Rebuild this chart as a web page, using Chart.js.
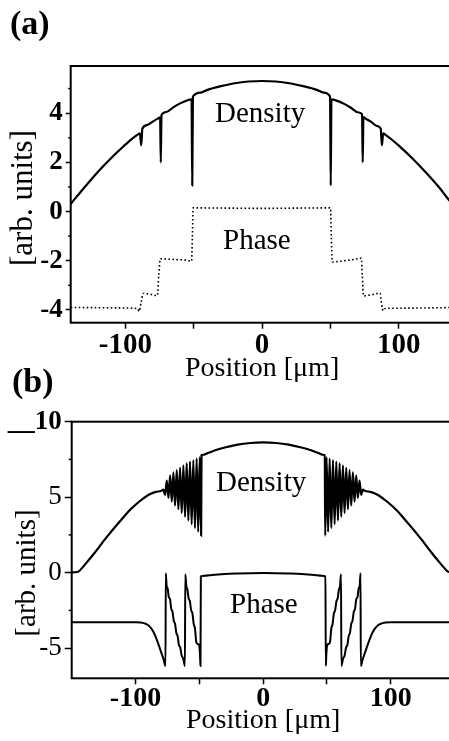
<!DOCTYPE html>
<html><head><meta charset="utf-8">
<script src="https://cdn.jsdelivr.net/npm/chart.js@4/dist/chart.umd.min.js"></script>
<style>
html,body{margin:0;padding:0;overflow:hidden;background:#fff;width:449px;height:741px;}
#wrap{position:relative;width:449px;height:741px;overflow:hidden;background:#fff;}
canvas{position:absolute;left:0;}
.t{position:absolute;font-family:'Liberation Serif','Times New Roman',serif;line-height:1;white-space:nowrap;color:#000;}
.b{font-weight:bold;}
.rot{transform:translate(-50%,-50%) rotate(-90deg);}
</style></head><body>
<div id="wrap">
<canvas id="ca" width="480" height="395" style="top:0;width:480px;height:395px"></canvas>
<canvas id="cb" width="480" height="381" style="top:360px;width:480px;height:381px"></canvas>
<div class="t b" style="left:10px;top:5.5px;font-size:34px">(a)</div>
<div class="t b" style="left:12px;top:363.5px;font-size:34px">(b)</div>
<div class="t" style="left:215px;top:97.7px;font-size:29px">Density</div>
<div class="t" style="left:223px;top:225px;font-size:29px">Phase</div>
<div class="t" style="left:216px;top:467.4px;font-size:29px">Density</div>
<div class="t" style="left:230px;top:589px;font-size:29px">Phase</div>
<div class="t rot" style="left:21px;top:198px;font-size:31px">[arb. units]</div>
<div class="t rot" style="left:25px;top:573px;font-size:29px">[arb. units]</div>
</div>
<script>
// ---------- Panel (a) ----------
const aDensX = [-140,-130,-120,-110,-100,-95,-90.5,-89.4,-88.4,-87.6,-84,-80,-76,-74.6,-74.1,-73.6,-70,-65,-60,-55,-51.6,-51.1,-50.6,-45,-40,-30,-20,-10,0,10,20,30,40,45,49.7,50.2,50.7,55,60,65,70,73.1,73.6,74.1,76,80,84,86.8,87.6,88.6,90,95,100,110,120,130,137,140];
const aDensY = [0.31,0.98,1.62,2.20,2.72,2.97,3.15,3.18,2.69,3.37,3.52,3.66,3.79,3.83,2.0,3.93,4.05,4.24,4.40,4.52,4.56,1.06,4.68,4.84,4.95,5.10,5.22,5.29,5.31,5.29,5.22,5.10,4.95,4.84,4.68,1.06,4.56,4.50,4.38,4.22,4.04,3.96,2.0,3.84,3.77,3.64,3.48,3.37,2.69,3.18,3.13,2.92,2.68,2.16,1.58,0.95,0.45,0.27];
const aPhaseX = [-140,-120,-100,-91,-90,-88.5,-87,-82,-76.6,-75.6,-74.4,-65,-55,-51.6,-51,-50.4,-25,0,25,50,50.6,51.3,60,66,72.6,73.3,74.2,80,86.4,87.2,88.6,89.5,100,120,140];
const aPhaseY = [-3.90,-3.91,-3.92,-3.95,-4.06,-3.7,-3.33,-3.36,-3.42,-2.6,-1.92,-1.95,-1.98,-2.02,-1.0,0.15,0.14,0.13,0.14,0.15,-1.0,-2.05,-2.0,-1.96,-1.9,-2.6,-3.43,-3.38,-3.32,-3.7,-4.03,-3.95,-3.93,-3.92,-3.90];
const aXTicks = [-100,-50,0,50,100];
const aXLabels = ['-100','','0','','100'];
const aYTicks = [-4,-2,0,2,4];
const aYLabels = ['-4','-2','0','2','4'];
const aYMinor = [-3,-1,1,3,5];

// ---------- Panel (b) ----------
const bDensX = [-150,-146,-144,-142,-140,-136,-132,-128,-124,-120,-116,-112,-108,-104,-100,-96,-92,-88,-84,-80,-78.2,-76.8,-75.5,-74.2,-72.9,-71.6,-70.3,-69.0,-67.7,-66.4,-65.1,-63.8,-62.5,-61.2,-59.9,-58.6,-57.3,-56.0,-54.7,-53.4,-52.1,-50.9,-49.7,-48.6,-48.3,-47,-44,-40,-35,-30,-20,-10,0,10,20,30,35,40,44,47,48.3,48.6,49.7,50.9,52.1,53.4,54.7,56.0,57.3,58.6,59.9,61.2,62.5,63.8,65.1,66.4,67.7,69.0,70.3,71.6,72.9,74.2,75.5,76.8,78.2,80,84,88,92,96,100,104,108,112,116,120,124,128,132,136,140,142,144,146,150];
const bDensY = [0.02,0.04,0.12,0.30,0.50,0.90,1.32,1.76,2.20,2.62,3.02,3.42,3.82,4.18,4.50,4.78,5.03,5.22,5.35,5.41,5.50,5.15,6.10,4.95,6.45,4.70,6.65,4.45,6.80,4.20,6.95,3.95,7.10,3.70,7.25,3.45,7.35,3.20,7.45,2.95,7.55,2.70,7.65,2.45,7.78,7.81,7.90,8.03,8.17,8.29,8.48,8.59,8.63,8.59,8.48,8.29,8.17,8.03,7.90,7.81,7.78,2.45,7.65,2.70,7.55,2.95,7.45,3.20,7.35,3.45,7.25,3.70,7.10,3.95,6.95,4.20,6.80,4.45,6.65,4.70,6.45,4.95,6.10,5.15,5.50,5.41,5.35,5.22,5.03,4.78,4.50,4.18,3.82,3.42,3.02,2.62,2.20,1.76,1.32,0.90,0.50,0.30,0.12,0.04,0.02];
const bPhaseX = [-150,-130,-110,-100,-96,-93,-90,-88,-86,-84,-82,-80,-78,-76.5,-76.3,-75.6,-74.8,-74.0,-73.0,-72.0,-71.0,-70.0,-69.0,-68.0,-67.0,-66.0,-65.0,-63.8,-62.6,-61.3,-61.0,-60.2,-59.4,-58.4,-57.4,-56.4,-55.4,-54.4,-53.4,-52.4,-51.4,-50.2,-49.5,-49.1,-48.8,-46,-40,-30,-20,-10,0,10,20,30,40,46,48.8,49.1,49.5,50.2,51.4,52.4,53.4,54.4,55.4,56.4,57.4,58.4,59.4,60.2,61.0,61.3,62.6,63.8,65.0,66.0,67.0,68.0,69.0,70.0,71.0,72.0,73.0,74.0,74.8,75.6,76.3,76.5,78,80,82,84,86,88,90,93,96,100,110,130,150];
const bPhaseY = [-3.28,-3.28,-3.28,-3.28,-3.30,-3.36,-3.48,-3.66,-3.92,-4.30,-4.75,-5.25,-5.75,-6.18,-0.04,-0.90,-1.05,-1.60,-1.75,-2.40,-2.60,-3.20,-3.40,-4.00,-4.20,-4.80,-4.95,-5.50,-5.70,-6.18,-0.10,-0.90,-1.10,-1.70,-1.90,-2.50,-2.70,-3.40,-3.70,-4.60,-4.72,-4.80,-5.40,-6.18,-0.25,-0.21,-0.15,-0.09,-0.06,-0.04,-0.03,-0.04,-0.06,-0.09,-0.15,-0.21,-0.25,-6.18,-5.40,-4.80,-4.72,-4.60,-3.70,-3.40,-2.70,-2.50,-1.90,-1.70,-1.10,-0.90,-0.10,-6.18,-5.70,-5.50,-4.95,-4.80,-4.20,-4.00,-3.40,-3.20,-2.60,-2.40,-1.75,-1.60,-1.05,-0.90,-0.04,-6.18,-5.75,-5.25,-4.75,-4.30,-3.92,-3.66,-3.48,-3.36,-3.30,-3.28,-3.28,-3.28,-3.28];
const bXTicks = [-100,-50,0,50,100];
const bXLabels = ['-100','','0','','100'];
const bYTicks = [-5,0,5,10];
const bYLabels = ['-5','0','5','__10'];
const bYMinor = [-2.5,2.5,7.5];

const SERIF = "'Liberation Serif','Times New Roman',serif";
const pts = (xs, ys) => xs.map((x, i) => ({x: x, y: ys[i]}));
const labelFor = (vals, labs) => (v) => { const i = vals.indexOf(v); return i < 0 ? '' : labs[i]; };

const framePlugin = {
  id: 'frame',
  afterDatasetsDraw(chart, args, opts) {
    const {ctx, chartArea: a, scales} = chart;
    ctx.save();
    ctx.strokeStyle = '#000';
    ctx.lineWidth = 2;
    ctx.strokeRect(a.left, a.top, a.right - a.left, a.bottom - a.top);
    ctx.lineWidth = 1.5;
    (opts.minor || []).forEach(v => {
      const p = scales.y.getPixelForValue(v);
      ctx.beginPath(); ctx.moveTo(a.left - opts.len, p); ctx.lineTo(a.left, p); ctx.stroke();
    });
    ctx.restore();
  }
};

function build(id, P) {
  return new Chart(document.getElementById(id), {
    type: 'line',
    data: { datasets: [
      { data: pts(P.dx, P.dy), borderColor: '#000', borderWidth: 2.2, pointRadius: 0, fill: false, cubicInterpolationMode: 'monotone' },
      { data: pts(P.px, P.py), borderColor: '#000', borderWidth: P.phaseW, borderDash: P.dash, pointRadius: 0, fill: false, cubicInterpolationMode: 'monotone' }
    ]},
    options: {
      responsive: false, animation: false, events: [],
      layout: { padding: { top: P.padTop, left: 0, right: P.padRight, bottom: 0 } },
      plugins: { legend: { display: false }, tooltip: { enabled: false }, frame: { minor: P.minor, len: P.minorLen } },
      scales: {
        x: {
          type: 'linear', min: P.xmin, max: P.xmax,
          afterBuildTicks: s => { s.ticks = P.xt.map(v => ({value: v})); },
          afterFit: s => { s.height = P.xH; },
          border: { display: false },
          grid: { drawOnChartArea: false, drawTicks: true, tickLength: 6, tickWidth: 1.5, tickColor: '#000' },
          ticks: { autoSkip: false, maxRotation: 0, minRotation: 0, padding: P.xPad, color: '#000',
                   font: { family: SERIF, size: P.xFont, weight: 'bold', lineHeight: 1 },
                   callback: labelFor(P.xt, P.xl) },
          title: { display: true, text: 'Position [μm]', color: '#000',
                   font: { family: SERIF, size: 28, lineHeight: 1.2 }, padding: { top: 0, bottom: P.titlePad } }
        },
        y: {
          type: 'linear', min: P.ymin, max: P.ymax,
          afterBuildTicks: s => { s.ticks = P.yt.map(v => ({value: v})); },
          afterFit: s => { s.width = P.yW; },
          border: { display: false },
          grid: { drawOnChartArea: false, drawTicks: true, tickLength: P.yTickLen, tickWidth: 1.5, tickColor: '#000' },
          ticks: { autoSkip: false, padding: 3, color: '#000', font: P.yFont, callback: labelFor(P.yt, P.yl) }
        }
      }
    },
    plugins: [framePlugin]
  });
}

build('ca', {
  dx: aDensX, dy: aDensY, px: aPhaseX, py: aPhaseY, phaseW: 1.6, dash: [1.6, 2.4],
  padTop: 66, padRight: 480 - 453.5, xH: 395 - 322.7, xPad: 2, xFont: 29, titlePad: 9.7,
  xmin: -140, xmax: 140, xt: aXTicks, xl: aXLabels,
  ymin: -4.52, ymax: 5.92, yt: aYTicks, yl: aYLabels, yW: 70.7, yTickLen: 5,
  yFont: { family: SERIF, size: 27, weight: 'bold', lineHeight: 1 },
  minor: aYMinor, minorLen: 2.5
});
build('cb', {
  dx: bDensX, dy: bDensY, px: bPhaseX, py: bPhaseY, phaseW: 2, dash: [],
  padTop: 61.7, padRight: 480 - 454.6, xH: 381 - 318.3, xPad: 0, xFont: 28, titlePad: 3.7,
  xmin: -150, xmax: 150, xt: bXTicks, xl: bXLabels,
  ymin: -7, ymax: 10, yt: bYTicks, yl: bYLabels, yW: 71.7, yTickLen: 7,
  yFont: (c) => ({ family: SERIF, size: 27, weight: (c.tick && c.tick.value === 10) ? 'bold' : 'normal', lineHeight: 1 }),
  minor: bYMinor, minorLen: 3
});
</script>
</body></html>
